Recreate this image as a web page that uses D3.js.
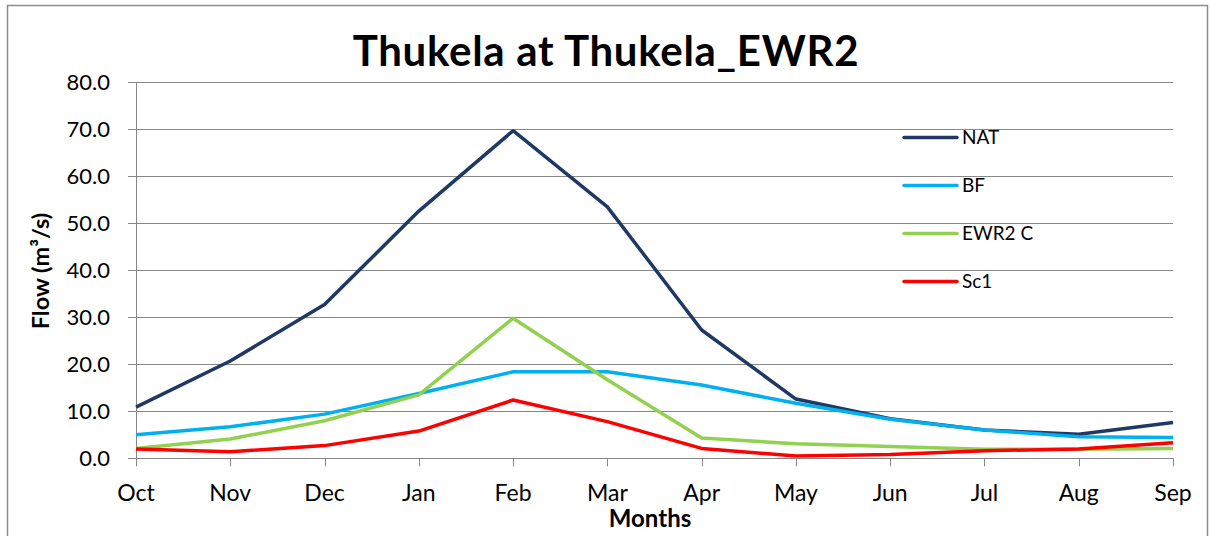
<!DOCTYPE html>
<html>
<head>
<meta charset="utf-8">
<script src="https://cdn.jsdelivr.net/npm/d3@7"></script>
<style>
  html, body { margin: 0; padding: 0; background: #fff; }
  svg { display: block; font-family: Lato, "Open Sans", sans-serif; }
</style>
</head>
<body>
<svg id="chart" width="1210" height="536"></svg>
<script>
// Monthly flow at Thukela_EWR2 (m³/s), hydrological year Oct–Sep
const months = ["Oct", "Nov", "Dec", "Jan", "Feb", "Mar", "Apr", "May", "Jun", "Jul", "Aug", "Sep"];
const natFlow  = [10.9, 20.7, 32.7, 52.6, 69.7, 53.5, 27.3, 12.6, 8.4, 6.0, 5.1, 7.6];
const bfFlow   = [5.0, 6.7, 9.4, 13.8, 18.4, 18.4, 15.6, 11.7, 8.3, 6.0, 4.6, 4.4];
const ewrFlow  = [2.1, 4.1, 8.0, 13.5, 29.8, 16.7, 4.3, 3.1, 2.5, 1.9, 1.9, 2.1];
const sc1Flow  = [2.0, 1.4, 2.7, 5.8, 12.4, 7.8, 2.1, 0.5, 0.8, 1.6, 2.0, 3.3];
const yTicks   = [0, 10, 20, 30, 40, 50, 60, 70, 80];
const seriesNames = ["NAT", "BF", "EWR2 C", "Sc1"];

const series = [
  { name: seriesNames[0], values: natFlow, color: "#1F3864" },
  { name: seriesNames[1], values: bfFlow,  color: "#00B0F0" },
  { name: seriesNames[2], values: ewrFlow, color: "#92D050" },
  { name: seriesNames[3], values: sc1Flow, color: "#FF0000" }
];

const svg = d3.select("#chart");
const plot = { left: 136, right: 1173, top: 82.3, bottom: 458.3 };

// outer chart frame
svg.append("rect")
  .attr("x", 7.5).attr("y", 5.5)
  .attr("width", 1200).attr("height", 540)
  .attr("fill", "#fff").attr("stroke", "#8c8c8c").attr("stroke-width", 1.5);

const x = d3.scalePoint().domain(months).range([plot.left, plot.right]);
const y = d3.scaleLinear().domain([0, 80]).range([plot.bottom, plot.top]);

// horizontal gridlines with left tick stubs
svg.append("g").selectAll("line").data(yTicks).join("line")
  .attr("x1", plot.left - 8).attr("x2", plot.right)
  .attr("y1", d => Math.round(y(d)) + 0.5).attr("y2", d => Math.round(y(d)) + 0.5)
  .attr("stroke", "#878787").attr("stroke-width", 1);

// y axis line
svg.append("line")
  .attr("x1", plot.left + 0.5).attr("x2", plot.left + 0.5)
  .attr("y1", plot.top).attr("y2", plot.bottom)
  .attr("stroke", "#878787");

// y tick labels
svg.append("g").selectAll("text").data(yTicks).join("text")
  .attr("x", 110).attr("y", d => y(d))
  .attr("dy", "0.35em")
  .attr("text-anchor", "end")
  .attr("font-size", 22)
  .attr("fill", "#000")
  .text(d => d.toFixed(1));

// x axis tick marks
svg.append("g").selectAll("line").data(months).join("line")
  .attr("x1", d => Math.round(x(d)) + 0.5).attr("x2", d => Math.round(x(d)) + 0.5)
  .attr("y1", plot.bottom).attr("y2", plot.bottom + 8)
  .attr("stroke", "#878787");

// x tick labels
svg.append("g").selectAll("text").data(months).join("text")
  .attr("x", d => x(d)).attr("y", 501)
  .attr("text-anchor", "middle")
  .attr("font-size", 23)
  .attr("fill", "#000")
  .text(d => d);

// series lines
const line = d3.line()
  .x((d, i) => x(months[i]))
  .y(d => y(d));

svg.append("g").selectAll("path").data(series).join("path")
  .attr("d", s => line(s.values))
  .attr("fill", "none")
  .attr("stroke", s => s.color)
  .attr("stroke-width", 3.5)
  .attr("stroke-linejoin", "round");

// legend
const legend = svg.append("g").selectAll("g").data(series).join("g")
  .attr("transform", (d, i) => `translate(904, ${137.5 + i * 48})`);
legend.append("line")
  .attr("x1", 0).attr("x2", 53)
  .attr("stroke", d => d.color)
  .attr("stroke-width", 3.5)
  .attr("stroke-linecap", "round");
legend.append("text")
  .attr("x", 58).attr("dy", "0.35em")
  .attr("font-size", 19)
  .attr("fill", "#000")
  .text(d => d.name);

// title
svg.append("text")
  .attr("x", 606).attr("y", 66)
  .attr("text-anchor", "middle")
  .attr("font-size", 42)
  .attr("font-weight", "bold")
  .attr("letter-spacing", 0.7)
  .attr("fill", "#000")
  .text("Thukela at Thukela_EWR2");

// axis titles
svg.append("text")
  .attr("x", 650).attr("y", 527)
  .attr("text-anchor", "middle")
  .attr("font-size", 24)
  .attr("font-weight", "bold")
  .text("Months");

svg.append("text")
  .attr("transform", "translate(49, 271) rotate(-90)")
  .attr("text-anchor", "middle")
  .attr("font-size", 23.5)
  .attr("font-weight", "bold")
  .text("Flow (m³/s)");
</script>
</body>
</html>
